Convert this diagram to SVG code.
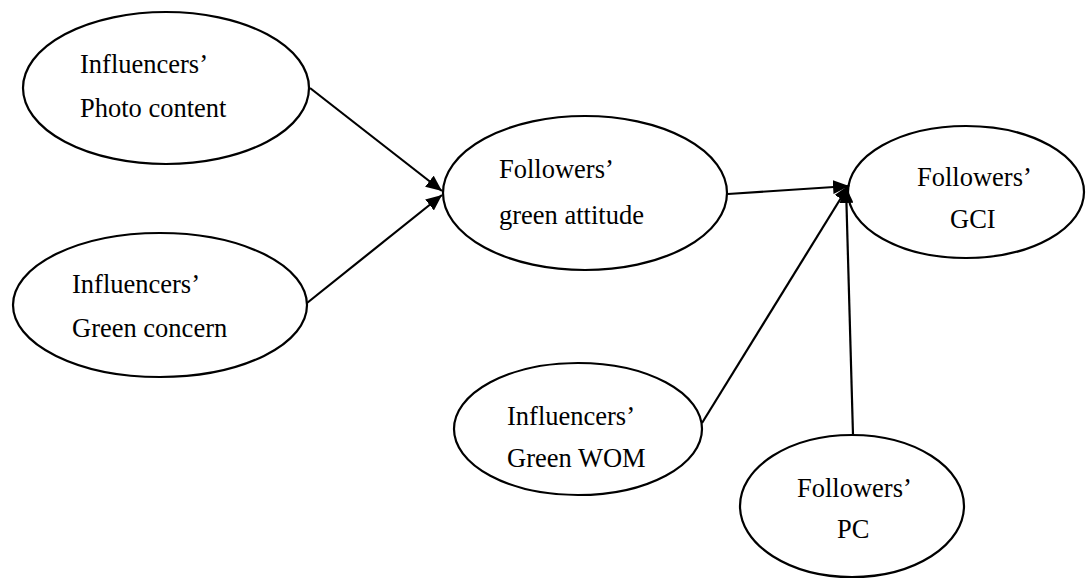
<svg xmlns="http://www.w3.org/2000/svg" width="1088" height="579" viewBox="0 0 1088 579">
<style>
.n{fill:#fff;stroke:#000;stroke-width:2.2}
.t{font-size:26.5px;fill:#000}
.c{stroke:#000;stroke-width:2.2;fill:none;marker-end:url(#ah)}
</style>
<defs>
<marker id="ah" markerUnits="userSpaceOnUse" markerWidth="18" markerHeight="14" refX="16" refY="7" orient="auto">
<path d="M0,0 L16,7 L0,14 z" fill="#000"/>
</marker>
</defs>
<rect width="1088" height="579" fill="#fff"/>
<g font-family="Liberation Serif, Times New Roman, DejaVu Serif, serif">
<g id="n-photo">
<ellipse class="n" cx="166" cy="88" rx="143" ry="76"/>
<text class="t" x="80" y="73">Influencers’</text>
<text class="t" x="80" y="117">Photo content</text>
</g>
<g id="n-concern">
<ellipse class="n" cx="160" cy="305" rx="147" ry="72"/>
<text class="t" x="72" y="293">Influencers’</text>
<text class="t" x="72" y="337">Green concern</text>
</g>
<g id="n-attitude">
<ellipse class="n" cx="585" cy="193" rx="142" ry="77"/>
<text class="t" x="499" y="178">Followers’</text>
<text class="t" x="499" y="224">green attitude</text>
</g>
<g id="n-gci">
<ellipse class="n" cx="966" cy="192" rx="118" ry="66"/>
<text class="t" x="917" y="186">Followers’</text>
<text class="t" x="950" y="228">GCI</text>
</g>
<g id="n-wom">
<ellipse class="n" cx="578" cy="429" rx="124" ry="66"/>
<text class="t" x="507" y="425">Influencers’</text>
<text class="t" x="507" y="467">Green WOM</text>
</g>
<g id="n-pc">
<ellipse class="n" cx="852" cy="506" rx="112" ry="71"/>
<text class="t" x="797" y="497">Followers’</text>
<text class="t" x="837" y="538">PC</text>
</g>
</g>
<g id="connectors">
<line class="c" x1="310" y1="88" x2="442" y2="191"/>
<line class="c" x1="307" y1="303" x2="442" y2="195"/>
<line class="c" x1="728" y1="194" x2="849" y2="186"/>
<line class="c" x1="702" y1="423" x2="849" y2="185"/>
<line class="c" x1="853" y1="435" x2="846" y2="187"/>
</g>
</svg>
